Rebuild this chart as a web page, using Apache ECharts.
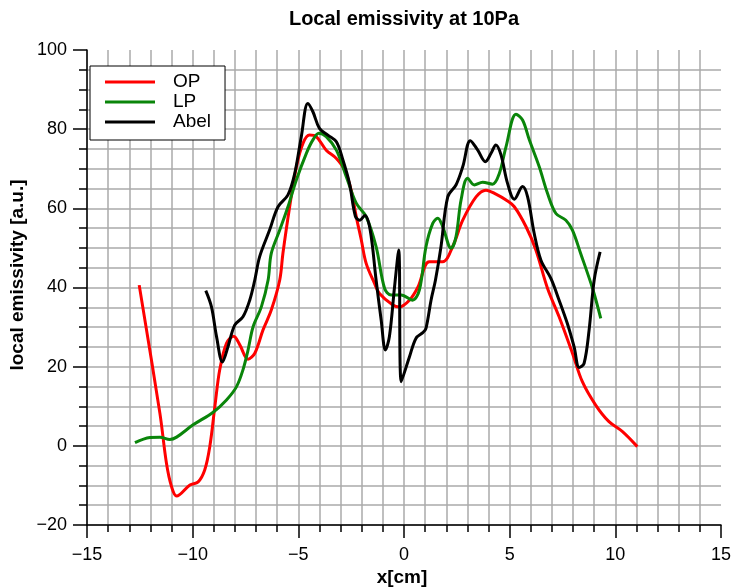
<!DOCTYPE html>
<html>
<head>
<meta charset="utf-8">
<script src="https://cdn.jsdelivr.net/npm/echarts@6/dist/echarts.min.js"></script>
<style>html,body{margin:0;padding:0;background:#fff}#c{width:734px;height:587px}</style>
</head>
<body>
<div id="c"></div>
<script>
const seriesNames = ['OP', 'LP', 'Abel'];
const opData = [[-12.53,40.6],[-11.55,8.2],[-11.24,-4.4],[-11.0,-10.3],[-10.76,-12.7],[-10.13,-9.9],[-9.74,-9.1],[-9.43,-6.1],[-9.19,-0.2],[-8.95,9.9],[-8.72,19.2],[-8.4,25.9],[-8.06,27.7],[-7.77,25.5],[-7.38,21.9],[-7.06,23.4],[-6.67,29.3],[-6.28,34.3],[-5.88,41.9],[-5.73,48.6],[-5.41,60.4],[-5.09,70.5],[-4.78,76.4],[-4.47,78.5],[-4.15,78.1],[-3.68,74.7],[-3.2,72.6],[-2.81,69.7],[-2.5,64.6],[-2.26,57.9],[-2.02,52.0],[-1.79,46.1],[-1.4,41.1],[-1.16,38.5],[-0.53,35.6],[-0.21,35.1],[0.26,36.8],[0.65,40.0],[1.2,46.5],[1.83,46.5],[2.3,50.3],[2.78,57.0],[3.41,62.9],[3.88,64.6],[4.35,63.6],[4.83,62.1],[5.22,60.4],[5.77,55.4],[6.24,49.5],[6.79,39.8],[7.34,32.6],[7.97,23.4],[8.44,16.2],[9.07,10.3],[9.7,6.1],[10.34,3.6],[11.04,-0.2]];
const lpData = [[-12.73,0.8],[-12.02,2.1],[-11.55,2.2],[-11.08,1.6],[-10.76,2.2],[-9.98,5.3],[-9.03,8.5],[-8.4,11.6],[-7.93,14.9],[-7.62,19.2],[-7.38,24.2],[-7.14,30.1],[-6.75,35.1],[-6.43,41.9],[-6.28,48.6],[-5.88,54.5],[-5.49,60.4],[-5.09,67.2],[-4.62,73.9],[-4.31,77.3],[-4.03,79.0],[-3.68,78.1],[-3.2,74.7],[-2.73,68.0],[-2.26,61.3],[-1.79,57.9],[-1.32,50.3],[-0.92,39.8],[-0.61,38.1],[-0.13,38.1],[0.4,36.8],[0.73,39.4],[1.04,50.3],[1.36,56.2],[1.6,57.5],[1.83,55.4],[2.23,49.9],[2.46,52.8],[2.7,62.1],[3.01,67.6],[3.33,65.9],[3.72,66.6],[4.19,66.1],[4.51,68.8],[4.83,75.6],[5.3,83.8],[5.61,82.3],[5.93,77.3],[6.4,70.5],[6.79,63.8],[7.19,58.7],[7.66,57.0],[7.97,54.5],[8.36,48.6],[8.92,39.8],[9.31,32.2]];
const abelData = [[-9.38,39.2],[-9.11,35.1],[-8.87,27.6],[-8.59,21.2],[-8.33,25.0],[-8.01,30.5],[-7.62,32.6],[-7.3,36.8],[-7.06,41.9],[-6.83,47.8],[-6.36,54.5],[-5.96,60.4],[-5.49,63.4],[-5.17,68.8],[-4.86,78.1],[-4.55,86.5],[-4.31,84.4],[-4.0,80.2],[-3.6,78.5],[-3.2,76.8],[-2.89,72.2],[-2.58,66.3],[-2.3,58.0],[-2.1,57.0],[-1.85,58.2],[-1.6,54.5],[-1.32,41.9],[-1.08,31.8],[-0.88,24.2],[-0.69,27.6],[-0.45,40.0],[-0.25,49.5],[-0.13,16.2],[0.26,22.5],[0.57,27.2],[0.89,28.6],[1.04,29.7],[1.28,36.8],[1.49,41.9],[1.75,50.3],[2.07,62.9],[2.46,65.9],[2.78,70.5],[3.14,77.1],[3.49,74.7],[3.85,71.8],[4.12,73.9],[4.35,76.0],[4.59,73.5],[4.9,66.3],[5.22,62.3],[5.61,65.5],[5.85,62.9],[6.16,53.7],[6.48,46.9],[6.95,42.3],[7.34,36.8],[7.73,30.9],[8.05,25.0],[8.29,19.8],[8.52,20.8],[8.76,29.3],[9.0,41.9],[9.28,49.0]];
const xTicks = [-15, 15, 5];
const yTicks = [-20, 100, 20];

const chart = echarts.init(document.getElementById('c'), null, {renderer: 'canvas'});
const FONT = '"Liberation Sans", Arial, Helvetica, sans-serif';
const gridColor = '#aaaaaa';
const fmt = v => (v < 0 ? '\u2212' + Math.abs(v) : String(v));
chart.setOption({
  animation: false,
  backgroundColor: '#fff',
  textStyle: {fontFamily: FONT},
  graphic: [
    {type: 'text', x: 404, y: 19, style: {text: 'Local emissivity at 10Pa', font: 'bold 20px ' + FONT, fill: '#000', textAlign: 'center', textVerticalAlign: 'middle'}},
    {type: 'text', x: 402, y: 578, style: {text: 'x[cm]', font: 'bold 19px ' + FONT, fill: '#000', textAlign: 'center', textVerticalAlign: 'middle'}},
    {type: 'text', x: 18, y: 275, rotation: Math.PI / 2,
     style: {text: 'local emissivity [a.u.]', font: 'bold 19px ' + FONT, fill: '#000', textAlign: 'center', textVerticalAlign: 'middle'}}
  ],
  legend: {
    data: seriesNames,
    orient: 'vertical',
    left: 90, top: 66,
    icon: 'rect',
    itemWidth: 50, itemHeight: 3, itemGap: 0,
    padding: [6, 14, 8, 15],
    borderColor: '#000', borderWidth: 1,
    backgroundColor: '#fff',
    textStyle: {fontFamily: FONT, fontSize: 19, color: '#000', lineHeight: 20, padding: [0, 0, 0, 13]}
  },
  grid: {left: 87, right: 12, top: 50, bottom: 62, containLabel: false},
  xAxis: {
    type: 'value', min: xTicks[0], max: xTicks[1], interval: xTicks[2],
    axisLine: {show: true, onZero: false, lineStyle: {color: '#000', width: 1.5}},
    axisTick: {show: true, length: 13, lineStyle: {color: '#000', width: 1.5}},
    minorTick: {show: true, splitNumber: 5, length: 7, lineStyle: {color: '#000', width: 1.5}},
    splitLine: {show: true, showMaxLine: false, lineStyle: {color: gridColor, width: 1.5}},
    minorSplitLine: {show: true, lineStyle: {color: gridColor, width: 1.5}},
    axisLabel: {fontFamily: FONT, fontSize: 18, color: '#000', margin: 21, formatter: fmt}
  },
  yAxis: {
    type: 'value', min: yTicks[0], max: yTicks[1], interval: yTicks[2],
    axisLine: {show: true, onZero: false, lineStyle: {color: '#000', width: 1.5}},
    axisTick: {show: true, length: 14, lineStyle: {color: '#000', width: 1.5}},
    minorTick: {show: true, splitNumber: 4, length: 8, lineStyle: {color: '#000', width: 1.5}},
    splitLine: {show: true, showMaxLine: false, lineStyle: {color: gridColor, width: 1.5}},
    minorSplitLine: {show: true, lineStyle: {color: gridColor, width: 1.5}},
    axisLabel: {fontFamily: FONT, fontSize: 18, color: '#000', margin: 20, formatter: fmt}
  },
  series: [
    {name: seriesNames[0], type: 'line', data: opData, smooth: 0.35, symbol: 'none', lineStyle: {color: '#ff0000', width: 3}, itemStyle: {color: '#ff0000'}},
    {name: seriesNames[1], type: 'line', data: lpData, smooth: 0.35, symbol: 'none', lineStyle: {color: '#0a850a', width: 3}, itemStyle: {color: '#0a850a'}},
    {name: seriesNames[2], type: 'line', data: abelData, smooth: 0.35, symbol: 'none', lineStyle: {color: '#000000', width: 3}, itemStyle: {color: '#000000'}}
  ]
});
</script>
</body>
</html>
